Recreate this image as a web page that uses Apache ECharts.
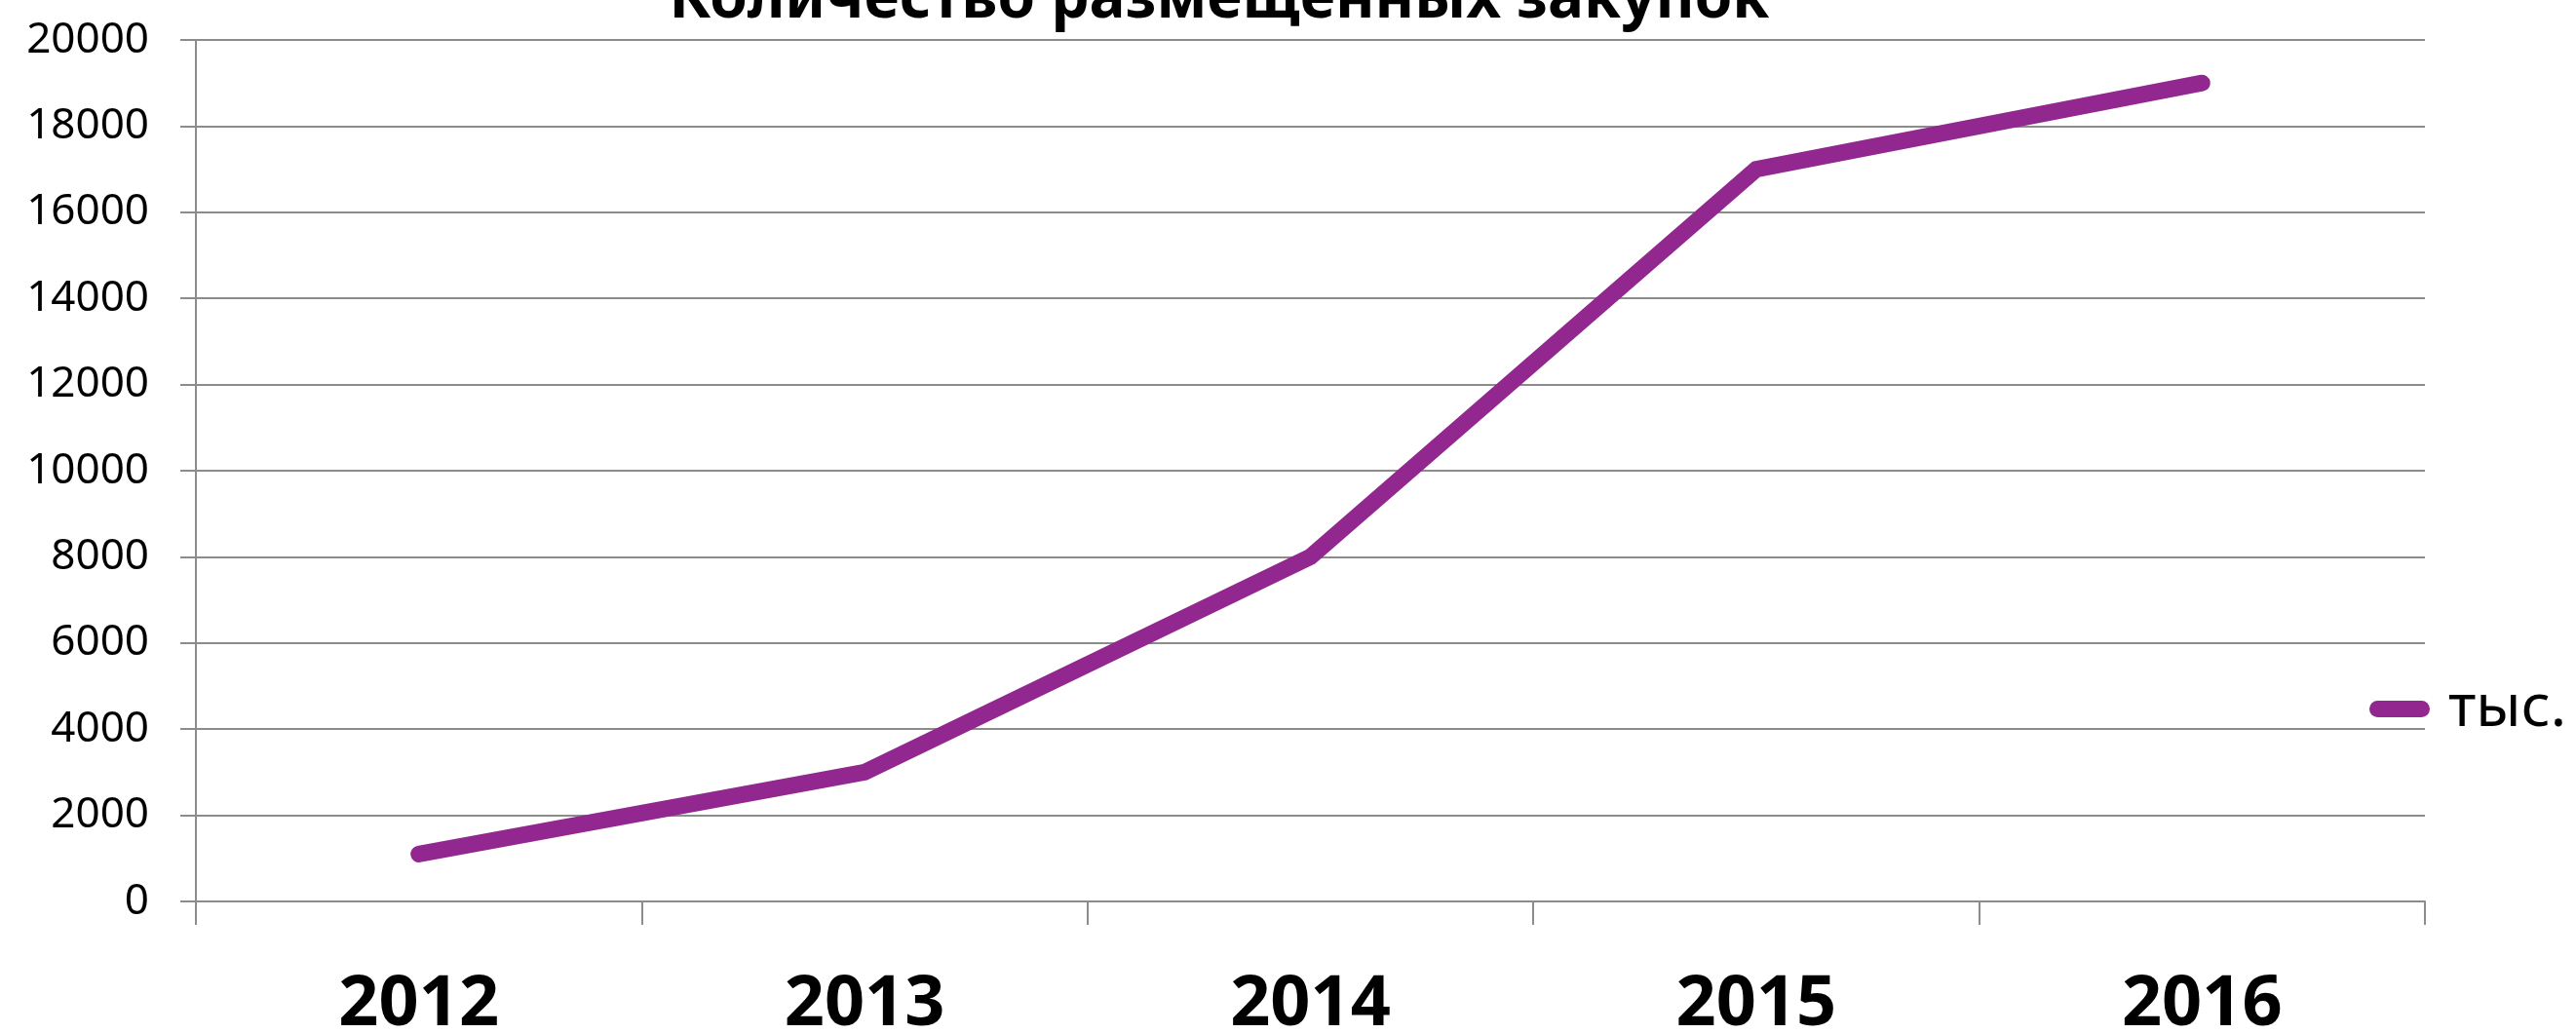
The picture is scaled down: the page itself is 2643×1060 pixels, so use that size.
<!DOCTYPE html>
<html>
<head>
<meta charset="utf-8">
<title>Количество размещенных закупок</title>
<script src="https://cdn.jsdelivr.net/npm/echarts@6/dist/echarts.min.js"></script>
<style>
  html, body { margin: 0; padding: 0; background: #fff; }
  #chart { width: 2643px; height: 1060px; }
</style>
</head>
<body>
<div id="chart"></div>
<script>
const years = ["2012", "2013", "2014", "2015", "2016"];
const purchases = [1100, 3000, 8000, 17000, 19000];
const yTicks = { min: 0, max: 20000, step: 2000 };
const seriesName = "тыс.";

const lineColor = "#92278f";
const gridColor = "#8c8c8c";

const chart = echarts.init(document.getElementById("chart"));

chart.setOption({
  animation: false,
  backgroundColor: "#ffffff",
  title: {
    text: "Количество размещенных закупок",
    left: 1246,
    top: -36,
    textAlign: "center",
    textStyle: {
      fontFamily: "Noto Sans",
      fontWeight: "bold",
      fontSize: 62,
      color: "#000",
    },
  },
  legend: {
    orient: "vertical",
    left: 2426,
    top: 692,
    itemWidth: 62,
    itemHeight: 17,
    // капсула вместо стандартной иконки линии
    icon: "path://M8.5,0L53.5,0A8.5,8.5,0,0,1,53.5,17L8.5,17A8.5,8.5,0,0,1,8.5,0Z",
    itemStyle: { color: lineColor },
    textStyle: {
      fontFamily: "Noto Sans",
      fontSize: 61,
      color: "#000",
      padding: [0, 0, 0, 14],
    },
    data: [seriesName],
  },
  grid: {
    left: 201,
    right: 155,
    top: 41,
    bottom: 135,
    containLabel: false,
    outerBoundsMode: "none", // не сжимать сетку из-за подписей
  },
  xAxis: {
    type: "category",
    data: years,
    boundaryGap: true,
    axisLine: { show: true, lineStyle: { color: gridColor, width: 2 } },
    axisTick: { show: true, length: 24, lineStyle: { color: gridColor, width: 2 } },
    axisLabel: {
      margin: 70,
      fontFamily: "Noto Sans",
      fontWeight: "bold",
      fontSize: 72,
      color: "#000",
    },
  },
  yAxis: {
    type: "value",
    min: yTicks.min,
    max: yTicks.max,
    interval: yTicks.step,
    axisLine: { show: true, lineStyle: { color: gridColor, width: 2 } },
    axisTick: { show: true, length: 16, lineStyle: { color: gridColor, width: 2 } },
    axisLabel: {
      margin: 48,
      fontFamily: "Noto Sans",
      fontSize: 44,
      color: "#000",
      formatter: (v) => String(v), // без разделителя тысяч
    },
    splitLine: { show: true, lineStyle: { color: gridColor, width: 2 } },
  },
  series: [
    {
      name: seriesName,
      type: "line",
      data: purchases,
      showSymbol: false,
      symbol: "none",
      lineStyle: {
        color: lineColor,
        width: 17,
        cap: "round",
        join: "miter",
      },
      itemStyle: { color: lineColor },
    },
  ],
});
</script>
</body>
</html>
